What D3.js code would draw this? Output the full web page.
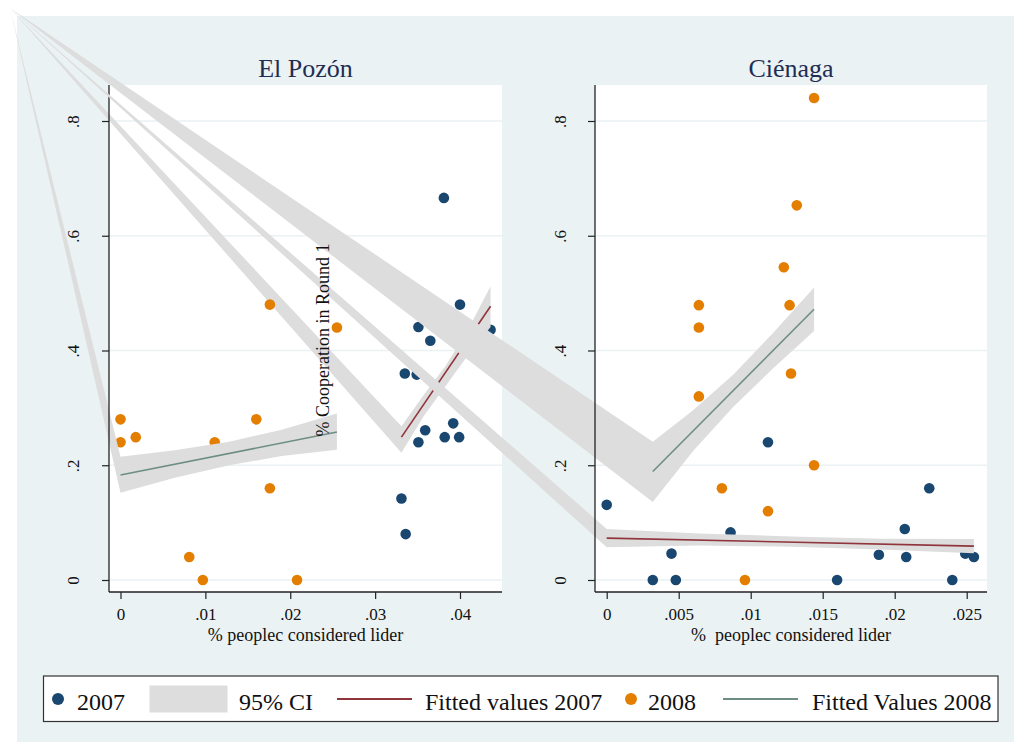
<!DOCTYPE html>
<html>
<head>
<meta charset="utf-8">
<script src="https://cdn.jsdelivr.net/npm/d3@7"></script>
<style>
  body { margin: 0; background: #ffffff; }
  svg { display: block; font-family: 'Liberation Serif', 'DejaVu Serif', serif; }
</style>
</head>
<body>
<div class="chart"></div>
<script>
// values
var sites = ['El Pozón', 'Ciénaga'];
var yTicks = [0, 0.2, 0.4, 0.6, 0.8];
var pozonXTicks = [0, 0.01, 0.02, 0.03, 0.04];
var cienagaXTicks = [0, 0.005, 0.01, 0.015, 0.02, 0.025];
var xTitles = ['% peoplec considered lider', '%  peoplec considered lider'];
var yTitle = '% Cooperation in Round 1';
var legendLabels = ['2007', '95% CI', 'Fitted values 2007', '2008', 'Fitted Values 2008'];

// El Pozón
var pozon07X = [0.0331, 0.0336, 0.0335, 0.0349, 0.0351, 0.0351, 0.0359, 0.0365, 0.0381, 0.0382, 0.0392, 0.0399, 0.0400, 0.0436];
var pozon07Y = [0.142, 0.080, 0.360, 0.358, 0.441, 0.240, 0.261, 0.417, 0.666, 0.249, 0.273, 0.249, 0.480, 0.436];
var pozon08X = [0, 0, 0.0018, 0.0111, 0.0160, 0.0176, 0.0255, 0.0176, 0.0081, 0.0097, 0.0208];
var pozon08Y = [0.280, 0.240, 0.249, 0.240, 0.280, 0.480, 0.440, 0.160, 0.040, 0, 0];
var pozon07FitX = [0.0331, 0.0436];
var pozon07FitY = [0.249, 0.477];
var pozon07CiX = [0.0331, 0.0357, 0.0383, 0.0410, 0.0436];
var pozon07CiHi = [0.268, 0.322, 0.373, 0.438, 0.512];
var pozon07CiLo = [0.222, 0.285, 0.338, 0.393, 0.441];
var pozon08FitX = [0, 0.0255];
var pozon08FitY = [0.183, 0.258];
var pozon08CiX = [0, 0.0064, 0.0128, 0.0190, 0.0255];
var pozon08CiHi = [0.215, 0.226, 0.241, 0.262, 0.290];
var pozon08CiLo = [0.152, 0.178, 0.200, 0.216, 0.227];

// Ciénaga
var cienaga07X = [0, 0.0032, 0.0045, 0.0048, 0.0086, 0.0112, 0.0160, 0.0189, 0.0207, 0.0208, 0.0224, 0.0240, 0.0249, 0.0255];
var cienaga07Y = [0.131, 0, 0.046, 0, 0.083, 0.240, 0, 0.044, 0.089, 0.040, 0.160, 0, 0.046, 0.040];
var cienaga08X = [0.0064, 0.0080, 0.0096, 0.0112, 0.0128, 0.0144, 0.0144, 0.0132, 0.0123, 0.0127, 0.0064, 0.0064];
var cienaga08Y = [0.320, 0.160, 0, 0.120, 0.360, 0.200, 0.840, 0.653, 0.545, 0.479, 0.479, 0.440];
var cienaga07FitX = [0, 0.0255];
var cienaga07FitY = [0.073, 0.059];
var cienaga07CiX = [0, 0.0064, 0.0128, 0.0190, 0.0255];
var cienaga07CiHi = [0.089, 0.081, 0.076, 0.072, 0.0715];
var cienaga07CiLo = [0.057, 0.060, 0.058, 0.053, 0.0465];
var cienaga08FitX = [0.0032, 0.0144];
var cienaga08FitY = [0.189, 0.472];
var cienaga08CiX = [0.0032, 0.0060, 0.0088, 0.0116, 0.0144];
var cienaga08CiHi = [0.241, 0.296, 0.358, 0.432, 0.510];
var cienaga08CiLo = [0.136, 0.225, 0.302, 0.370, 0.434];

var width = 1014,
  height = 742;

var navy = '#1a476f',
  orange = '#e37e00',
  maroon = '#90353b',
  teal = '#6e8e84',
  ciFill = '#dddddd',
  bg = '#eaf2f3';

// the stray vertex every CI polygon starts from
var ciAnchor = [10, 8];

var svgEl = d3
  .select('.chart')
  .append('svg')
  .attr('width', width)
  .attr('height', height);

svgEl
  .append('rect')
  .attr('x', 17)
  .attr('y', 16)
  .attr('width', width - 17)
  .attr('height', height - 16)
  .style('fill', bg);

var yScale = d3.scaleLinear().domain([0, 0.8]).range([580, 121]);

var panels = [
  {
    title: sites[0],
    box: { left: 109, right: 502, top: 85, bottom: 592 },
    x: d3.scaleLinear().domain([0, 0.04]).range([120.5, 460]),
    xTicks: pozonXTicks,
    xTitle: xTitles[0],
    s07: [pozon07X, pozon07Y],
    s08: [pozon08X, pozon08Y],
    fit07: [pozon07FitX, pozon07FitY],
    fit08: [pozon08FitX, pozon08FitY],
    ci07: [pozon07CiX, pozon07CiLo, pozon07CiHi],
    ci08: [pozon08CiX, pozon08CiLo, pozon08CiHi],
    labelOffset: -36
  },
  {
    title: sites[1],
    box: { left: 595, right: 987, top: 85, bottom: 592 },
    x: d3.scaleLinear().domain([0, 0.025]).range([606.7, 966.7]),
    xTicks: cienagaXTicks,
    xTitle: xTitles[1],
    s07: [cienaga07X, cienaga07Y],
    s08: [cienaga08X, cienaga08Y],
    fit07: [cienaga07FitX, cienaga07FitY],
    fit08: [cienaga08FitX, cienaga08FitY],
    ci07: [cienaga07CiX, cienaga07CiLo, cienaga07CiHi],
    ci08: [cienaga08CiX, cienaga08CiLo, cienaga08CiHi],
    labelOffset: -35
  }
];

var fmt = (d) => (d === 0 ? '0' : String(d).replace(/^0/, ''));

function dots(g, p, s, color) {
  g.append('g')
    .selectAll('circle')
    .data(s[0])
    .enter()
    .append('circle')
    .attr('cx', (d) => p.x(d))
    .attr('cy', (d, i) => yScale(s[1][i]))
    .attr('r', 5.3)
    .style('fill', color);
}

function ciArea(g, p, c) {
  var upper = c[0].map((d, i) => [p.x(d), yScale(c[2][i])]);
  var lower = c[0].map((d, i) => [p.x(d), yScale(c[1][i])]).reverse();
  var pts = [ciAnchor].concat(upper, lower);
  g.append('path')
    .attr('d', d3.line()(pts) + 'Z')
    .style('fill', ciFill)
    .style('stroke', 'none');
}

function fitLine(g, p, f, color) {
  var pts = f[0].map((d, i) => [p.x(d), yScale(f[1][i])]);
  g.append('path')
    .attr('d', d3.line()(pts))
    .style('fill', 'none')
    .style('stroke', color)
    .style('stroke-width', 1.6);
}

panels.forEach((p) => {
  var g = svgEl.append('g');
  var b = p.box;

  g.append('rect')
    .attr('x', b.left)
    .attr('y', b.top)
    .attr('width', b.right - b.left)
    .attr('height', b.bottom - b.top)
    .style('fill', '#ffffff');

  g.append('g')
    .selectAll('line')
    .data(yTicks)
    .enter()
    .append('line')
    .attr('x1', b.left)
    .attr('x2', b.right)
    .attr('y1', (d) => yScale(d))
    .attr('y2', (d) => yScale(d))
    .style('stroke', bg)
    .style('stroke-width', 1.6);

  g.append('text')
    .attr('x', (b.left + b.right) / 2)
    .attr('y', 77)
    .attr('text-anchor', 'middle')
    .style('font-size', '26px')
    .style('fill', '#1e2d53')
    .text(p.title);

  dots(g, p, p.s07, navy);
  ciArea(g, p, p.ci07);
  fitLine(g, p, p.fit07, maroon);
  dots(g, p, p.s08, orange);
  ciArea(g, p, p.ci08);
  fitLine(g, p, p.fit08, teal);

  // axes
  var yAxis = d3
    .axisLeft(yScale)
    .tickValues(yTicks)
    .tickFormat(fmt)
    .tickSize(7)
    .tickSizeOuter(0);
  var ya = g
    .append('g')
    .attr('transform', 'translate(' + b.left + ',0)')
    .call(yAxis);
  ya.select('.domain').remove();
  ya.selectAll('line').style('stroke', '#222').style('stroke-width', 1.2);
  ya.selectAll('text')
    .attr('x', null)
    .attr('dy', '0.35em')
    .attr('transform', 'translate(' + p.labelOffset + ',0) rotate(-90)')
    .attr('text-anchor', 'middle')
    .style('font-family', 'Liberation Serif')
    .style('font-size', '17px')
    .style('fill', '#111');

  var xAxis = d3
    .axisBottom(p.x)
    .tickValues(p.xTicks)
    .tickFormat(fmt)
    .tickSize(7)
    .tickPadding(9)
    .tickSizeOuter(0);
  var xa = g
    .append('g')
    .attr('transform', 'translate(0,' + b.bottom + ')')
    .call(xAxis);
  xa.select('.domain').remove();
  xa.selectAll('line').style('stroke', '#222').style('stroke-width', 1.2);
  xa.selectAll('text')
    .style('font-family', 'Liberation Serif')
    .style('font-size', '17px')
    .style('fill', '#111');

  g.append('line')
    .attr('x1', b.left)
    .attr('x2', b.left)
    .attr('y1', b.top)
    .attr('y2', b.bottom)
    .style('stroke', '#222')
    .style('stroke-width', 1.3);
  g.append('line')
    .attr('x1', b.left)
    .attr('x2', b.right)
    .attr('y1', b.bottom)
    .attr('y2', b.bottom)
    .style('stroke', '#222')
    .style('stroke-width', 1.3);

  g.append('text')
    .attr('x', (b.left + b.right) / 2)
    .attr('y', 641)
    .attr('text-anchor', 'middle')
    .style('font-size', '18px')
    .style('fill', '#111')
    .style('white-space', 'pre')
    .text(p.xTitle);
});

svgEl
  .append('text')
  .attr('transform', 'translate(323,340) rotate(-90)')
  .attr('dy', '0.35em')
  .attr('text-anchor', 'middle')
  .style('font-size', '18px')
  .style('fill', '#111')
  .text(yTitle);

// legend
var leg = svgEl.append('g');
leg
  .append('rect')
  .attr('x', 43.5)
  .attr('y', 676)
  .attr('width', 954.5)
  .attr('height', 45.5)
  .style('fill', '#ffffff')
  .style('stroke', '#333')
  .style('stroke-width', 1.2);

var ly = 699;
leg.append('circle').attr('cx', 58).attr('cy', ly).attr('r', 6).style('fill', navy);
leg
  .append('rect')
  .attr('x', 149.5)
  .attr('y', ly - 13.5)
  .attr('width', 78)
  .attr('height', 27)
  .style('fill', ciFill);
leg
  .append('line')
  .attr('x1', 337)
  .attr('x2', 412)
  .attr('y1', ly)
  .attr('y2', ly)
  .style('stroke', maroon)
  .style('stroke-width', 1.8);
leg.append('circle').attr('cx', 631).attr('cy', ly).attr('r', 6).style('fill', orange);
leg
  .append('line')
  .attr('x1', 723)
  .attr('x2', 798)
  .attr('y1', ly)
  .attr('y2', ly)
  .style('stroke', teal)
  .style('stroke-width', 1.8);

var legendTextX = [77, 239, 425, 648, 812];
leg
  .selectAll('text')
  .data(legendLabels)
  .enter()
  .append('text')
  .attr('x', (d, i) => legendTextX[i])
  .attr('y', 710)
  .style('font-size', '24px')
  .style('fill', '#111')
  .text((d) => d);
</script>
</body>
</html>
